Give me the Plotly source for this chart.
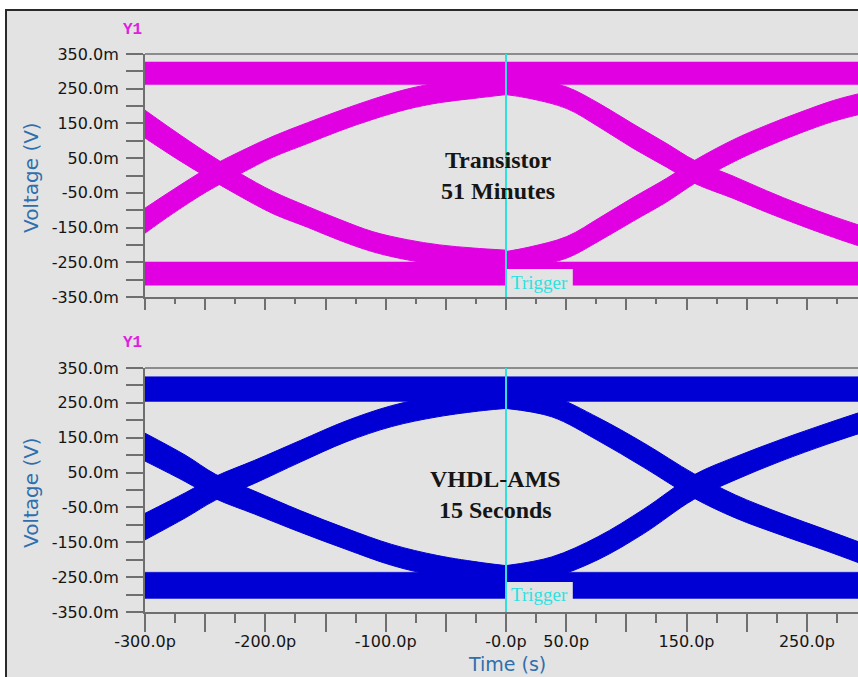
import plotly.graph_objects as go

W, H = 858, 677

# ---------------- data (time in ps, voltage in mV) ----------------
time_window = [-300.0, 292.5]

# Transistor eye (top)
top_rail_high = [262, 327]
top_rail_low = [-316, -249]
top_left_t = [-300, -276.7, -248.5, -221, -193.6, -165, -138, -110.5, -82, -55, -27, 0]
top_fall_left_v = [148, 93, 30, -27, -78, -119, -157, -191, -214, -229, -238, -244]
top_fall_left_h = [40, 38, 35, 33, 32, 30, 30, 29, 29, 29, 29, 29]
top_rise_left_v = [-130, -75, -13, 37, 83, 122, 158, 191, 220, 239, 251, 262]
top_rise_left_h = [36, 34, 33, 32, 30, 30, 29, 29, 29, 29, 29, 29]
top_right_t = [0, 18.3, 50.4, 78.1, 105.8, 133.5, 157, 188.9, 216.6, 244.3, 272, 292.5]
top_fall_right_v = [262, 252, 224, 172, 113, 58, 10, -34, -75, -113, -148, -172]
top_fall_right_h = [29, 29, 31, 34, 35, 34, 33, 32, 31, 30, 30, 30]
top_rise_right_v = [-248, -236, -207, -154, -97, -42, 11, 71, 114, 152, 186, 205]
top_rise_right_h = [29, 29, 31, 33, 34, 34, 33, 32, 31, 30, 30, 30]

# VHDL-AMS eye (bottom)
bot_rail_high = [254, 325]
bot_rail_low = [-311, -236]
bot_left_t = [-300, -266, -241.4, -209, -171, -133, -95, -56.8, -18.8, 0]
bot_fall_left_v = [123, 61, 10, -36, -90, -140, -186, -218, -239, -247]
bot_fall_left_h = [40, 38, 35, 33, 31, 30, 30, 30, 30, 30]
bot_rise_left_v = [-105, -43, 5, 52, 111, 168, 212, 240, 258, 264]
bot_rise_left_h = [38, 36, 34, 33, 31, 30, 30, 30, 30, 30]
bot_right_t = [0, 38, 76.4, 114.4, 156, 190.5, 228.5, 266.6, 292.5]
bot_fall_right_v = [264, 240, 175, 100, 12, -47, -98, -145, -178]
bot_fall_right_h = [30, 30, 33, 35, 35, 33, 31, 30, 30]
bot_rise_right_v = [-247, -222, -167, -90, 8, 62, 114, 161, 191]
bot_rise_right_h = [30, 30, 33, 35, 35, 33, 31, 30, 30]

# trigger label box extent (ps / mV)
trigger_box_t = [0, 55.5]
top_trigger_box_v = [-350, -269]
bot_trigger_box_v = [-350, -264]

# axis ticks
y_tickvals = [350, 300, 250, 200, 150, 100, 50, 0, -50, -100, -150, -200, -250, -300, -350]
y_ticktext = ['350.0m', '', '250.0m', '', '150.0m', '', '50.0m', '', '-50.0m', '',
              '-150.0m', '', '-250.0m', '', '-350.0m']
x_tickvals = [-300, -250, -200, -150, -100, -50, 0, 50, 100, 150, 200, 250]
x_ticktext = ['-300.0p', '', '-200.0p', '', '-100.0p', '', '-0.0p', '50.0p', '',
              '150.0p', '', '250.0p']
x_minorvals = [-275, -225, -175, -125, -75, -25, 25, 75, 125, 175, 225, 275]

MAGENTA = '#e100e1'
BLUE = '#0000d4'
CYAN = '#2ee0e0'
BG = '#e3e3e3'
AX = '#6f6f6f'
TITLE_BLUE = '#2f6fad'

fig = go.Figure()


def band(t, v, h, color, xa, ya):
    upper = [a + b for a, b in zip(v, h)]
    lower = [a - b for a, b in zip(v, h)]
    fig.add_trace(go.Scatter(x=t, y=upper, mode='lines',
                             line=dict(color=color, width=1, shape='spline', smoothing=1.0),
                             xaxis=xa, yaxis=ya, hoverinfo='skip', showlegend=False))
    fig.add_trace(go.Scatter(x=t, y=lower, mode='lines', fill='tonexty', fillcolor=color,
                             line=dict(color=color, width=1, shape='spline', smoothing=1.0),
                             xaxis=xa, yaxis=ya, hoverinfo='skip', showlegend=False))


def rail(edges, color, xa, ya):
    lo, hi = edges
    t0, t1 = time_window
    fig.add_trace(go.Scatter(x=[t0, t1, t1, t0, t0], y=[lo, lo, hi, hi, lo], fill='toself',
                             fillcolor=color, mode='lines', line=dict(color=color, width=0.5),
                             xaxis=xa, yaxis=ya, hoverinfo='skip', showlegend=False))


# top
rail(top_rail_high, MAGENTA, 'x', 'y')
rail(top_rail_low, MAGENTA, 'x', 'y')
band(top_left_t, top_fall_left_v, top_fall_left_h, MAGENTA, 'x', 'y')
band(top_left_t, top_rise_left_v, top_rise_left_h, MAGENTA, 'x', 'y')
band(top_right_t, top_fall_right_v, top_fall_right_h, MAGENTA, 'x', 'y')
band(top_right_t, top_rise_right_v, top_rise_right_h, MAGENTA, 'x', 'y')
# bottom
rail(bot_rail_high, BLUE, 'x2', 'y2')
rail(bot_rail_low, BLUE, 'x2', 'y2')
band(bot_left_t, bot_fall_left_v, bot_fall_left_h, BLUE, 'x2', 'y2')
band(bot_left_t, bot_rise_left_v, bot_rise_left_h, BLUE, 'x2', 'y2')
band(bot_right_t, bot_fall_right_v, bot_fall_right_h, BLUE, 'x2', 'y2')
band(bot_right_t, bot_rise_right_v, bot_rise_right_h, BLUE, 'x2', 'y2')

x_left = 145 / W
top_dom = [1 - 297 / H, 1 - 54 / H]
bot_dom = [1 - 612 / H, 1 - 368 / H]

tickfont = dict(family='DejaVu Sans', size=16, color='#151515')


def xaxis_cfg(anchor, labels, major_len, minor_len):
    return dict(domain=[x_left, 1], range=time_window, anchor=anchor, automargin=False,
                tickmode='array', tickvals=x_tickvals, ticktext=x_ticktext,
                showticklabels=labels, tickfont=tickfont, ticklabelstandoff=-4,
                ticks='outside', ticklen=major_len, tickwidth=2, tickcolor=AX,
                showline=True, linecolor=AX, linewidth=2, showgrid=False, zeroline=False,
                minor=dict(tickvals=x_minorvals, ticks='outside', ticklen=minor_len,
                           tickwidth=2, tickcolor=AX, showgrid=False))


def yaxis_cfg(anchor, dom):
    return dict(domain=dom, range=[-350, 350], anchor=anchor, automargin=False,
                tickmode='array', tickvals=y_tickvals, ticktext=y_ticktext,
                tickfont=tickfont, ticks='outside', ticklen=17, tickwidth=2, tickcolor=AX,
                ticklabelstandoff=4,
                showline=True, linecolor=AX, linewidth=2, showgrid=False, zeroline=False)


shapes = [
    dict(type='rect', xref='paper', yref='paper', x0=6 / W, x1=1.02, y0=-0.02, y1=1 - 10 / H,
         fillcolor=BG, line=dict(color='#2a2a2a', width=2), layer='below'),
    dict(type='line', xref='paper', yref='paper', x0=x_left, x1=1, y0=top_dom[1], y1=top_dom[1],
         line=dict(color='#8c8c8c', width=2), layer='above'),
    dict(type='line', xref='paper', yref='paper', x0=x_left, x1=1, y0=bot_dom[1], y1=bot_dom[1],
         line=dict(color='#8c8c8c', width=2), layer='above'),
    dict(type='rect', xref='x', yref='y', x0=trigger_box_t[0], x1=trigger_box_t[1],
         y0=top_trigger_box_v[0], y1=top_trigger_box_v[1], fillcolor=BG, line=dict(width=0),
         layer='above'),
    dict(type='rect', xref='x2', yref='y2', x0=trigger_box_t[0], x1=trigger_box_t[1],
         y0=bot_trigger_box_v[0], y1=bot_trigger_box_v[1], fillcolor=BG, line=dict(width=0),
         layer='above'),
    dict(type='line', xref='x', yref='y', x0=0, x1=0, y0=-350, y1=350,
         line=dict(color=CYAN, width=2), layer='above'),
    dict(type='line', xref='x2', yref='y2', x0=0, x1=0, y0=-350, y1=350,
         line=dict(color=CYAN, width=2), layer='above'),
]

serif_bold = dict(family='Liberation Serif', size=24, color='#151515')
annotations = [
    dict(text='<b>Transistor<br>51 Minutes</b>', xref='x', yref='y', x=-7, y=0,
         xanchor='center', yanchor='middle', showarrow=False, font=serif_bold, align='center'),
    dict(text='<b>VHDL-AMS<br>15 Seconds</b>', xref='x2', yref='y2', x=-9, y=-14,
         xanchor='center', yanchor='middle', showarrow=False, font=serif_bold, align='center'),
    dict(text='Trigger', xref='x', yref='y', x=0, y=-309, xanchor='left', yanchor='middle',
         xshift=3, showarrow=False, font=dict(family='Liberation Serif', size=19, color=CYAN)),
    dict(text='Trigger', xref='x2', yref='y2', x=0, y=-301, xanchor='left', yanchor='middle',
         xshift=3, showarrow=False, font=dict(family='Liberation Serif', size=19, color=CYAN)),
    dict(text='<b>Y1</b>', xref='paper', yref='paper', x=132 / W, y=1 - 30 / H,
         xanchor='center', yanchor='middle', showarrow=False,
         font=dict(family='Liberation Mono', size=16, color='#e020e0')),
    dict(text='<b>Y1</b>', xref='paper', yref='paper', x=132 / W, y=1 - 343 / H,
         xanchor='center', yanchor='middle', showarrow=False,
         font=dict(family='Liberation Mono', size=16, color='#e020e0')),
    dict(text='Voltage (V)', xref='paper', yref='paper', x=31 / W, y=1 - 177 / H,
         xanchor='center', yanchor='middle', textangle=-90, showarrow=False,
         font=dict(family='DejaVu Sans', size=20, color=TITLE_BLUE)),
    dict(text='Voltage (V)', xref='paper', yref='paper', x=31 / W, y=1 - 492 / H,
         xanchor='center', yanchor='middle', textangle=-90, showarrow=False,
         font=dict(family='DejaVu Sans', size=20, color=TITLE_BLUE)),
    dict(text='Time (s)', xref='paper', yref='paper', x=507 / W, y=1 - 664 / H,
         xanchor='center', yanchor='middle', showarrow=False,
         font=dict(family='DejaVu Sans', size=19, color=TITLE_BLUE)),
]

fig.update_layout(
    width=W, height=H, margin=dict(l=0, r=0, t=0, b=0, pad=0, autoexpand=False),
    paper_bgcolor='white', plot_bgcolor=BG, showlegend=False,
    xaxis=xaxis_cfg('y', False, 11, 5),
    yaxis=yaxis_cfg('x', top_dom),
    xaxis2=xaxis_cfg('y2', True, 18, 9),
    yaxis2=yaxis_cfg('x2', bot_dom),
    shapes=shapes, annotations=annotations,
)

fig.write_html('out.html')
